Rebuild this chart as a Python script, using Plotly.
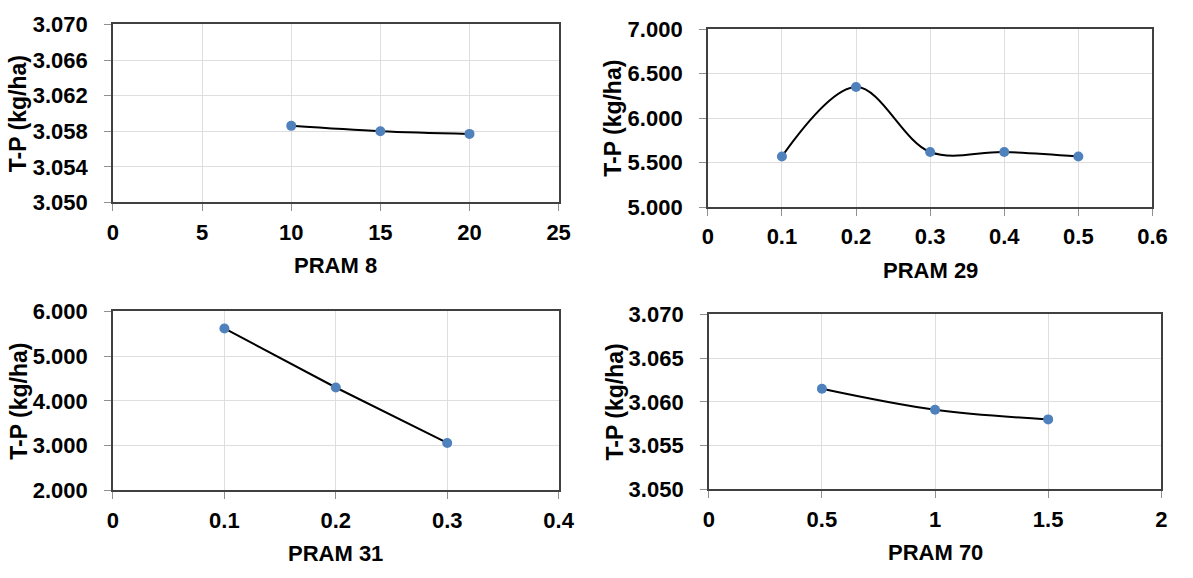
import plotly.graph_objects as go

W, H = 1193, 578

# data
p8_x = [10, 15, 20]
p8_y = [3.0586, 3.0580, 3.0577]
p29_x = [0.1, 0.2, 0.3, 0.4, 0.5]
p29_y = [5.57, 6.35, 5.62, 5.62, 5.57]
p31_x = [0.1, 0.2, 0.3]
p31_y = [5.62, 4.30, 3.06]
p70_x = [0.5, 1.0, 1.5]
p70_y = [3.0615, 3.0591, 3.0580]

x_titles = ["PRAM 8", "PRAM 29", "PRAM 31", "PRAM 70"]
y_title = "T-P (kg/ha)"

FONT = "Liberation Sans, Arial, sans-serif"
BLUE = "#4F81BD"

panels = [
    dict(x=p8_x, y=p8_y, box=(109, 563, 13, 199), xr=[0, 25], xd=5, yr=[3.050, 3.070], yd=0.004, shape="spline"),
    dict(x=p29_x, y=p29_y, box=(715, 1168, 18, 204), xr=[0, 0.6], xd=0.1, yr=[5.0, 7.0], yd=0.5, shape="spline"),
    dict(x=p31_x, y=p31_y, box=(109, 563, 313, 500), xr=[0, 0.4], xd=0.1, yr=[2.0, 6.0], yd=1.0, shape="linear"),
    dict(x=p70_x, y=p70_y, box=(716, 1177, 316, 499), xr=[0, 2], xd=0.5, yr=[3.050, 3.070], yd=0.005, shape="spline"),
]

fig = go.Figure()
annotations = []
layout = {}
for i, p in enumerate(panels):
    n = "" if i == 0 else str(i + 1)
    x0, x1, y0, y1 = p["box"]
    fig.add_trace(go.Scatter(
        x=p["x"], y=p["y"], mode="lines+markers",
        line=dict(color="black", width=2, shape=p["shape"], smoothing=1.0),
        marker=dict(color=BLUE, size=10),
        xaxis="x" + n, yaxis="y" + n, showlegend=False,
    ))
    axcommon = dict(
        showline=True, linecolor="#404040", linewidth=1.5, mirror=True,
        showgrid=True, gridcolor="#DEDEDE", gridwidth=1,
        ticks="outside", ticklen=7, tickcolor="#909090", tickwidth=1,
        zeroline=False, fixedrange=True,
        tickfont=dict(family=FONT, size=22, color="black", weight="bold"),
    )
    layout["xaxis" + n] = dict(
        axcommon, domain=[x0 / W, x1 / W], range=p["xr"], dtick=p["xd"], tick0=0,
        anchor="y" + n, ticklabelstandoff=2,
    )
    layout["yaxis" + n] = dict(
        axcommon, domain=[1 - y1 / H, 1 - y0 / H], range=p["yr"], dtick=p["yd"], tick0=p["yr"][0],
        anchor="x" + n, tickformat=".3f", ticklabelstandoff=12,
    )
    annotations.append(dict(
        text=x_titles[i], xref="paper", yref="paper",
        x=(x0 + x1) / 2 / W, y=1 - (y1 + 66) / H, showarrow=False,
        font=dict(family=FONT, size=22, color="black", weight="bold"),
        xanchor="center", yanchor="middle",
    ))
    annotations.append(dict(
        text=y_title, xref="paper", yref="paper",
        x=(x0 - 96) / W, y=1 - (y0 + y1) / 2 / H, showarrow=False, textangle=-90,
        font=dict(family=FONT, size=23, color="black", weight="bold"),
        xanchor="center", yanchor="middle",
    ))

fig.update_layout(
    width=W, height=H, margin=dict(l=0, r=0, t=0, b=0),
    paper_bgcolor="white", plot_bgcolor="white",
    annotations=annotations, **layout,
)
fig.write_html("out.html")
